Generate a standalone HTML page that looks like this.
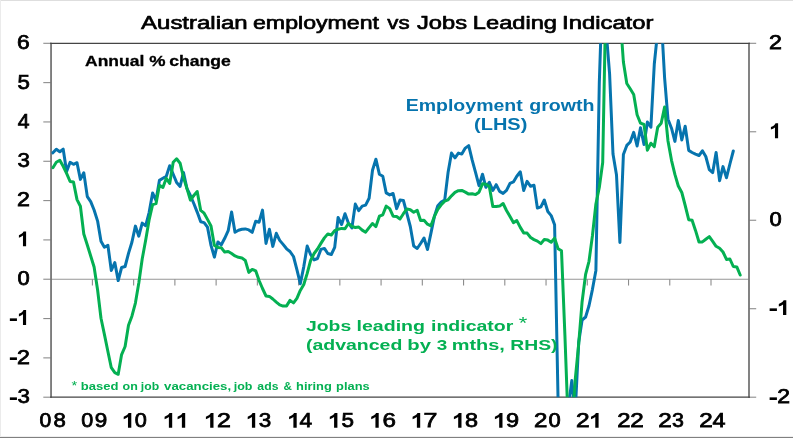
<!DOCTYPE html>
<html><head><meta charset="utf-8"><title>Australian employment vs Jobs Leading Indicator</title>
<style>
html,body{margin:0;padding:0;background:#fff;}
body{width:793px;height:438px;overflow:hidden;font-family:"Liberation Sans",sans-serif;}
svg{display:block;will-change:transform;font-family:"Liberation Sans",sans-serif;font-kerning:none;}
text{font-family:"Liberation Sans",sans-serif;}
.b{font-weight:bold;}
</style></head><body>
<svg width="793" height="438" viewBox="0 0 793 438">
<rect x="0" y="0" width="793" height="438" fill="#fff"/>
<rect x="0" y="0" width="793" height="1" fill="#dedede"/>
<rect x="0" y="0" width="1" height="438" fill="#ebebeb"/>
<rect x="0" y="437" width="793" height="1" fill="#808080"/>
<rect x="0" y="436" width="793" height="1" fill="#efefef"/>
<defs><clipPath id="c"><rect x="51.05" y="43.3" width="697.95" height="353.9"/></clipPath></defs>

<g stroke="#8c8c8c" stroke-width="1.1" fill="none">
<line x1="51.05" y1="279.23" x2="749.0" y2="279.23" stroke="#969696" stroke-width="1.2"/>
<line x1="92.40" y1="279.23" x2="92.40" y2="285.53"/>
<line x1="133.64" y1="279.23" x2="133.64" y2="285.53"/>
<line x1="174.88" y1="279.23" x2="174.88" y2="285.53"/>
<line x1="216.12" y1="279.23" x2="216.12" y2="285.53"/>
<line x1="257.36" y1="279.23" x2="257.36" y2="285.53"/>
<line x1="298.60" y1="279.23" x2="298.60" y2="285.53"/>
<line x1="339.84" y1="279.23" x2="339.84" y2="285.53"/>
<line x1="381.08" y1="279.23" x2="381.08" y2="285.53"/>
<line x1="422.32" y1="279.23" x2="422.32" y2="285.53"/>
<line x1="463.56" y1="279.23" x2="463.56" y2="285.53"/>
<line x1="504.80" y1="279.23" x2="504.80" y2="285.53"/>
<line x1="546.04" y1="279.23" x2="546.04" y2="285.53"/>
<line x1="587.28" y1="279.23" x2="587.28" y2="285.53"/>
<line x1="628.52" y1="279.23" x2="628.52" y2="285.53"/>
<line x1="669.76" y1="279.23" x2="669.76" y2="285.53"/>
<line x1="711.00" y1="279.23" x2="711.00" y2="285.53"/>
<line x1="43.3" y1="43.30" x2="51.05" y2="43.30"/>
<line x1="43.3" y1="82.62" x2="51.05" y2="82.62"/>
<line x1="43.3" y1="121.94" x2="51.05" y2="121.94"/>
<line x1="43.3" y1="161.27" x2="51.05" y2="161.27"/>
<line x1="43.3" y1="200.59" x2="51.05" y2="200.59"/>
<line x1="43.3" y1="239.91" x2="51.05" y2="239.91"/>
<line x1="43.3" y1="279.23" x2="51.05" y2="279.23"/>
<line x1="43.3" y1="318.56" x2="51.05" y2="318.56"/>
<line x1="43.3" y1="357.88" x2="51.05" y2="357.88"/>
<line x1="43.3" y1="397.20" x2="51.05" y2="397.20"/>
<line x1="749.0" y1="43.30" x2="756.2" y2="43.30"/>
<line x1="749.0" y1="131.77" x2="756.2" y2="131.77"/>
<line x1="749.0" y1="220.25" x2="756.2" y2="220.25"/>
<line x1="749.0" y1="308.72" x2="756.2" y2="308.72"/>
<line x1="749.0" y1="397.20" x2="756.2" y2="397.20"/>
</g>
<g fill="none">
<line x1="51.05" y1="42.699999999999996" x2="51.05" y2="397.8" stroke="#757575" stroke-width="1.8"/>
<line x1="749.0" y1="42.699999999999996" x2="749.0" y2="397.8" stroke="#757575" stroke-width="1.8"/>
<line x1="50.15" y1="43.3" x2="749.9" y2="43.3" stroke="#454545" stroke-width="1.3"/>
<line x1="50.15" y1="397.2" x2="749.9" y2="397.2" stroke="#454545" stroke-width="1.3"/>
</g>
<g clip-path="url(#c)" fill="none" stroke-linejoin="round" stroke-linecap="round" stroke-width="3.0">
<polyline stroke="#0674AE" points="52.9,152.8 56.3,149.2 59.8,151.8 63.2,149.2 66.6,171.4 70.1,162.3 73.5,164.3 77.0,162.7 80.4,179.4 83.8,172.8 87.3,196.6 90.7,201.6 94.1,210.0 97.6,221.1 101.0,241.3 104.4,247.3 107.9,245.3 111.3,270.5 114.8,262.5 118.2,280.6 121.6,267.5 125.1,266.5 128.5,253.4 131.9,242.3 135.4,226.1 138.8,236.2 142.2,223.1 145.7,225.7 149.1,212.6 152.6,192.9 156.0,200.5 159.4,180.4 162.9,178.3 166.3,176.3 169.7,165.8 173.2,174.3 176.6,182.4 180.1,186.4 183.5,172.5 186.9,188.4 190.4,195.5 193.8,203.5 197.2,212.1 200.7,221.8 204.1,222.6 207.5,227.2 211.0,245.4 214.4,257.1 217.9,242.0 221.3,244.8 224.7,238.3 228.2,230.7 231.6,212.1 235.0,232.3 238.5,230.3 241.9,229.3 245.3,228.9 248.8,229.9 252.2,232.3 255.7,221.2 259.1,222.2 262.5,210.1 266.0,243.4 269.4,229.3 272.8,246.4 276.3,233.3 279.7,240.4 283.1,244.4 286.6,248.8 290.0,251.5 293.5,256.5 296.9,269.6 300.3,283.7 303.8,266.6 307.2,246.0 310.6,254.5 314.1,259.9 317.5,258.5 320.9,249.4 324.4,248.4 327.8,253.5 331.3,254.5 334.7,247.4 338.1,217.5 341.6,224.5 345.0,213.7 348.4,223.0 351.9,228.0 355.3,204.1 358.7,210.6 362.2,206.1 365.6,205.1 369.1,198.3 372.5,170.3 375.9,159.2 379.4,174.3 382.8,176.3 386.2,192.9 389.7,194.9 393.1,193.5 396.6,208.6 400.0,200.1 403.4,200.5 406.9,213.7 410.3,226.5 413.7,246.1 417.2,248.5 420.6,243.5 424.0,238.0 427.5,249.5 430.9,233.4 434.4,216.4 437.8,205.7 441.2,202.1 444.7,200.1 448.1,172.3 451.5,153.1 455.0,157.8 458.4,153.1 461.8,154.1 465.3,148.1 468.7,145.6 472.2,160.2 475.6,172.7 479.0,185.6 482.5,174.2 485.9,187.3 489.3,182.3 492.8,190.4 496.2,184.7 499.6,191.4 503.1,193.4 506.5,190.4 510.0,183.3 513.4,181.9 516.8,176.2 520.3,171.8 523.7,190.4 527.1,181.3 530.6,186.3 534.0,185.3 537.4,208.1 540.9,206.9 544.3,200.0 547.8,211.5 551.2,215.6 554.6,224.7 558.1,402.0 561.5,440.0 564.9,440.0 568.4,407.0 571.8,380.6 575.2,412.0 578.7,342.3 582.1,320.0 585.6,317.0 589.0,305.7 592.4,289.6 595.9,270.4 599.3,83.0 602.7,-20.0 606.2,31.7 609.6,74.0 613.0,154.0 616.5,175.0 619.9,242.5 623.4,154.5 626.8,145.4 630.2,142.0 633.7,132.3 637.1,146.0 640.5,127.7 644.0,144.5 647.4,122.0 650.9,127.2 654.3,64.0 657.7,31.0 661.2,17.0 664.6,77.8 668.0,119.2 671.5,128.2 674.9,141.4 678.3,120.6 681.8,140.0 685.2,126.2 688.7,150.4 692.1,152.5 695.5,154.1 699.0,155.5 702.4,150.8 705.8,156.5 709.3,169.6 712.7,172.6 716.1,152.5 719.6,180.7 723.0,166.6 726.5,177.7 729.9,164.0 733.3,151.0"/>
<polyline stroke="#04B052" points="52.9,167.7 56.3,162.3 59.8,160.3 63.2,166.3 66.6,173.4 70.1,181.5 73.5,182.1 77.0,199.6 80.4,206.3 83.8,234.0 87.3,245.0 90.7,256.0 94.1,267.0 97.6,290.0 101.0,318.2 104.4,334.4 107.9,351.5 111.3,367.7 114.8,372.7 118.2,374.3 121.6,354.6 125.1,346.5 128.5,325.3 131.9,316.2 135.4,303.1 138.8,283.0 142.2,259.0 145.7,240.0 149.1,220.0 152.6,204.6 156.0,203.6 159.4,185.4 162.9,187.4 166.3,178.3 169.7,183.4 173.2,162.2 176.6,158.8 180.1,163.2 183.5,177.5 186.9,188.4 190.4,200.1 193.8,195.5 197.2,191.5 200.7,210.4 204.1,213.2 207.5,219.4 211.0,226.0 214.4,245.4 217.9,247.4 221.3,247.8 224.7,252.1 228.2,251.5 231.6,253.5 235.0,255.9 238.5,257.3 241.9,257.9 245.3,260.5 248.8,272.4 252.2,269.4 255.7,270.8 259.1,280.5 262.5,288.5 266.0,296.0 269.4,296.4 272.8,299.0 276.3,302.1 279.7,304.9 283.1,306.1 286.6,305.9 290.0,300.4 293.5,302.9 296.9,298.4 300.3,290.4 303.8,284.5 307.2,273.4 310.6,260.5 314.1,253.5 317.5,249.0 320.9,243.4 324.4,237.9 327.8,233.9 331.3,235.0 334.7,230.6 338.1,229.2 341.6,228.4 345.0,228.7 348.4,223.5 351.9,226.3 355.3,227.5 358.7,227.0 362.2,230.1 365.6,232.2 369.1,227.6 372.5,223.5 375.9,226.6 379.4,216.2 382.8,214.8 386.2,206.1 389.7,208.6 393.1,216.2 396.6,216.5 400.0,219.0 403.4,213.7 406.9,208.9 410.3,209.7 413.7,212.2 417.2,210.2 420.6,220.5 424.0,220.3 427.5,224.2 430.9,225.8 434.4,216.4 437.8,209.4 441.2,204.8 444.7,201.1 448.1,199.8 451.5,195.8 455.0,192.4 458.4,190.7 461.8,190.4 465.3,192.1 468.7,194.1 472.2,193.7 475.6,194.6 479.0,192.2 482.5,183.8 485.9,184.3 489.3,186.6 492.8,206.5 496.2,206.5 499.6,206.1 503.1,203.5 506.5,210.5 510.0,216.6 513.4,222.6 516.8,220.6 520.3,227.4 523.7,232.9 527.1,233.1 530.6,237.5 534.0,239.6 537.4,241.1 540.9,243.6 544.3,239.5 547.8,240.1 551.2,242.2 554.6,238.1 558.1,248.8 561.5,250.8 564.9,335.0 568.4,430.0 571.8,430.0 575.2,380.0 578.7,343.9 582.1,301.7 585.6,274.4 589.0,261.3 592.4,236.0 595.9,204.0 599.3,187.5 602.7,162.5 606.2,-20.0 609.6,-50.0 613.0,-50.0 616.5,-50.0 619.9,13.0 623.4,62.0 626.8,83.5 630.2,88.8 633.7,94.5 637.1,114.8 640.5,123.2 644.0,124.5 647.4,150.2 650.9,143.2 654.3,146.6 657.7,127.2 661.2,123.3 664.6,107.0 668.0,141.0 671.5,160.3 674.9,174.4 678.3,186.0 681.8,192.5 685.2,205.5 688.7,219.7 692.1,220.3 695.5,230.4 699.0,242.0 702.4,241.9 705.8,239.3 709.3,236.6 712.7,241.3 716.1,246.3 719.6,248.3 723.0,252.0 726.5,259.4 729.9,259.0 733.3,266.5 736.8,266.9 740.2,275.0"/>
</g>
<text x="141.1" y="28.5" font-size="17.6" textLength="106.53" lengthAdjust="spacingAndGlyphs" stroke="#000" stroke-width="0.65" stroke-linejoin="round">Australian</text>
<text x="253.01" y="28.5" font-size="17.6" textLength="126.01" lengthAdjust="spacingAndGlyphs" stroke="#000" stroke-width="0.65" stroke-linejoin="round">employment</text>
<text x="387.24" y="28.5" font-size="17.6" textLength="22.31" lengthAdjust="spacingAndGlyphs" stroke="#000" stroke-width="0.65" stroke-linejoin="round">vs</text>
<text x="416.96" y="28.5" font-size="17.6" textLength="50.04" lengthAdjust="spacingAndGlyphs" stroke="#000" stroke-width="0.65" stroke-linejoin="round">Jobs</text>
<text x="472.88" y="28.5" font-size="17.6" textLength="84.13" lengthAdjust="spacingAndGlyphs" stroke="#000" stroke-width="0.65" stroke-linejoin="round">Leading</text>
<text x="562.1" y="28.5" font-size="17.6" textLength="91.32" lengthAdjust="spacingAndGlyphs" stroke="#000" stroke-width="0.65" stroke-linejoin="round">Indicator</text>
<text x="85.07" y="65.7" font-size="15.3" class="b" textLength="59.18" lengthAdjust="spacingAndGlyphs" stroke="#000" stroke-width="0.3" stroke-linejoin="round">Annual</text>
<text x="149.35" y="65.7" font-size="15.3" class="b" textLength="16.28" lengthAdjust="spacingAndGlyphs" stroke="#000" stroke-width="0.3" stroke-linejoin="round">%</text>
<text x="169.28" y="65.7" font-size="15.3" class="b" textLength="61.56" lengthAdjust="spacingAndGlyphs" stroke="#000" stroke-width="0.3" stroke-linejoin="round">change</text>
<text x="405.66" y="110.5" font-size="15.7" class="b" fill="#0674AE" textLength="117.12" lengthAdjust="spacingAndGlyphs">Employment</text>
<text x="529.22" y="110.5" font-size="15.7" class="b" fill="#0674AE" textLength="65.37" lengthAdjust="spacingAndGlyphs">growth</text>
<text x="474.04" y="129.6" font-size="15.7" class="b" fill="#0674AE" textLength="53.31" lengthAdjust="spacingAndGlyphs">(LHS)</text>
<text x="305.98" y="330.8" font-size="15.0" class="b" fill="#04B052" textLength="45.25" lengthAdjust="spacingAndGlyphs">Jobs</text>
<text x="356.5" y="330.8" font-size="15.0" class="b" fill="#04B052" textLength="68.53" lengthAdjust="spacingAndGlyphs">leading</text>
<text x="431.0" y="330.8" font-size="15.0" class="b" fill="#04B052" textLength="82.28" lengthAdjust="spacingAndGlyphs">indicator</text>
<text x="518.77" y="329.0" font-size="16.5" fill="#04B052" textLength="8.53" lengthAdjust="spacingAndGlyphs">*</text>
<text x="305.93" y="349.8" font-size="15.0" class="b" fill="#04B052" textLength="96.41" lengthAdjust="spacingAndGlyphs">(advanced</text>
<text x="407.35" y="349.8" font-size="15.0" class="b" fill="#04B052" textLength="23.64" lengthAdjust="spacingAndGlyphs">by</text>
<text x="436.73" y="349.8" font-size="15.0" class="b" fill="#04B052" textLength="10.52" lengthAdjust="spacingAndGlyphs">3</text>
<text x="451.67" y="349.8" font-size="15.0" class="b" fill="#04B052" textLength="53.18" lengthAdjust="spacingAndGlyphs">mths,</text>
<text x="510.21" y="349.8" font-size="15.0" class="b" fill="#04B052" textLength="47.32" lengthAdjust="spacingAndGlyphs">RHS)</text>
<text x="80.68" y="389.7" font-size="10.6" class="b" fill="#04B052" textLength="37.75" lengthAdjust="spacingAndGlyphs">based</text>
<text x="122.56" y="389.7" font-size="10.6" class="b" fill="#04B052" textLength="15.27" lengthAdjust="spacingAndGlyphs">on</text>
<text x="140.84" y="389.7" font-size="10.6" class="b" fill="#04B052" textLength="18.31" lengthAdjust="spacingAndGlyphs">job</text>
<text x="164.14" y="389.7" font-size="10.6" class="b" fill="#04B052" textLength="66.97" lengthAdjust="spacingAndGlyphs">vacancies,</text>
<text x="233.75" y="389.7" font-size="10.6" class="b" fill="#04B052" textLength="18.71" lengthAdjust="spacingAndGlyphs">job</text>
<text x="257.37" y="389.7" font-size="10.6" class="b" fill="#04B052" textLength="21.08" lengthAdjust="spacingAndGlyphs">ads</text>
<text x="283.45" y="389.7" font-size="10.6" class="b" fill="#04B052" textLength="8.35" lengthAdjust="spacingAndGlyphs">&amp;</text>
<text x="296.09" y="389.7" font-size="10.6" class="b" fill="#04B052" textLength="35.75" lengthAdjust="spacingAndGlyphs">hiring</text>
<text x="336.09" y="389.7" font-size="10.6" class="b" fill="#04B052" textLength="33.62" lengthAdjust="spacingAndGlyphs">plans</text>
<text x="71.62" y="389.7" font-size="13" fill="#04B052" textLength="5.69" lengthAdjust="spacingAndGlyphs">*</text>
<text x="39.56" y="427.30" font-size="19.5" textLength="11.76" lengthAdjust="spacingAndGlyphs" stroke="#000" stroke-width="0.75" stroke-linejoin="miter">0</text>
<text x="53.58" y="427.30" font-size="19.5" textLength="12.32" lengthAdjust="spacingAndGlyphs" stroke="#000" stroke-width="0.75" stroke-linejoin="miter">8</text>
<text x="81.35" y="427.30" font-size="19.5" textLength="11.99" lengthAdjust="spacingAndGlyphs" stroke="#000" stroke-width="0.75" stroke-linejoin="miter">0</text>
<text x="94.77" y="427.30" font-size="19.5" textLength="12.49" lengthAdjust="spacingAndGlyphs" stroke="#000" stroke-width="0.75" stroke-linejoin="miter">9</text>
<path d="M1131,0H850V-1059Q696,-915 487,-846V-1101Q597,-1137 726,-1237.5Q855,-1338 903,-1472H1131Z" transform="translate(117.95,427.80) scale(0.01180,0.01012)"/>
<text x="134.74" y="427.30" font-size="19.5" textLength="12.10" lengthAdjust="spacingAndGlyphs" stroke="#000" stroke-width="0.75" stroke-linejoin="miter">0</text>
<path d="M1131,0H850V-1059Q696,-915 487,-846V-1101Q597,-1137 726,-1237.5Q855,-1338 903,-1472H1131Z" transform="translate(158.85,427.80) scale(0.01180,0.01012)"/>
<path d="M1131,0H850V-1059Q696,-915 487,-846V-1101Q597,-1137 726,-1237.5Q855,-1338 903,-1472H1131Z" transform="translate(171.85,427.80) scale(0.01180,0.01012)"/>
<path d="M1131,0H850V-1059Q696,-915 487,-846V-1101Q597,-1137 726,-1237.5Q855,-1338 903,-1472H1131Z" transform="translate(200.15,427.80) scale(0.01180,0.01012)"/>
<text x="217.10" y="427.30" font-size="19.5" textLength="13.89" lengthAdjust="spacingAndGlyphs" stroke="#000" stroke-width="0.75" stroke-linejoin="miter">2</text>
<path d="M1131,0H850V-1059Q696,-915 487,-846V-1101Q597,-1137 726,-1237.5Q855,-1338 903,-1472H1131Z" transform="translate(242.03,427.80) scale(0.01165,0.01012)"/>
<text x="258.81" y="427.30" font-size="19.5" textLength="12.50" lengthAdjust="spacingAndGlyphs" stroke="#000" stroke-width="0.75" stroke-linejoin="miter">3</text>
<path d="M1131,0H850V-1059Q696,-915 487,-846V-1101Q597,-1137 726,-1237.5Q855,-1338 903,-1472H1131Z" transform="translate(283.35,427.80) scale(0.01180,0.01012)"/>
<text x="299.49" y="427.30" font-size="19.5" textLength="12.64" lengthAdjust="spacingAndGlyphs" stroke="#000" stroke-width="0.75" stroke-linejoin="miter">4</text>
<path d="M1131,0H850V-1059Q696,-915 487,-846V-1101Q597,-1137 726,-1237.5Q855,-1338 903,-1472H1131Z" transform="translate(324.05,427.80) scale(0.01180,0.01012)"/>
<text x="341.41" y="427.30" font-size="19.5" textLength="12.50" lengthAdjust="spacingAndGlyphs" stroke="#000" stroke-width="0.75" stroke-linejoin="miter">5</text>
<path d="M1131,0H850V-1059Q696,-915 487,-846V-1101Q597,-1137 726,-1237.5Q855,-1338 903,-1472H1131Z" transform="translate(365.53,427.80) scale(0.01165,0.01012)"/>
<text x="382.44" y="427.30" font-size="19.5" textLength="13.45" lengthAdjust="spacingAndGlyphs" stroke="#000" stroke-width="0.75" stroke-linejoin="miter">6</text>
<path d="M1131,0H850V-1059Q696,-915 487,-846V-1101Q597,-1137 726,-1237.5Q855,-1338 903,-1472H1131Z" transform="translate(406.85,427.80) scale(0.01180,0.01012)"/>
<text x="423.50" y="427.30" font-size="19.5" textLength="13.89" lengthAdjust="spacingAndGlyphs" stroke="#000" stroke-width="0.75" stroke-linejoin="miter">7</text>
<path d="M1131,0H850V-1059Q696,-915 487,-846V-1101Q597,-1137 726,-1237.5Q855,-1338 903,-1472H1131Z" transform="translate(448.15,427.80) scale(0.01180,0.01012)"/>
<text x="465.02" y="427.30" font-size="19.5" textLength="13.03" lengthAdjust="spacingAndGlyphs" stroke="#000" stroke-width="0.75" stroke-linejoin="miter">8</text>
<path d="M1131,0H850V-1059Q696,-915 487,-846V-1101Q597,-1137 726,-1237.5Q855,-1338 903,-1472H1131Z" transform="translate(489.15,427.80) scale(0.01180,0.01012)"/>
<text x="505.92" y="427.30" font-size="19.5" textLength="13.09" lengthAdjust="spacingAndGlyphs" stroke="#000" stroke-width="0.75" stroke-linejoin="miter">9</text>
<text x="534.14" y="427.30" font-size="19.5" textLength="13.40" lengthAdjust="spacingAndGlyphs" stroke="#000" stroke-width="0.75" stroke-linejoin="miter">2</text>
<text x="548.53" y="427.30" font-size="19.5" textLength="12.22" lengthAdjust="spacingAndGlyphs" stroke="#000" stroke-width="0.75" stroke-linejoin="miter">0</text>
<text x="576.02" y="427.30" font-size="19.5" textLength="13.64" lengthAdjust="spacingAndGlyphs" stroke="#000" stroke-width="0.75" stroke-linejoin="miter">2</text>
<path d="M1131,0H850V-1059Q696,-915 487,-846V-1101Q597,-1137 726,-1237.5Q855,-1338 903,-1472H1131Z" transform="translate(585.25,427.80) scale(0.01180,0.01012)"/>
<text x="617.15" y="427.30" font-size="19.5" textLength="13.28" lengthAdjust="spacingAndGlyphs" stroke="#000" stroke-width="0.75" stroke-linejoin="miter">2</text>
<text x="630.23" y="427.30" font-size="19.5" textLength="13.52" lengthAdjust="spacingAndGlyphs" stroke="#000" stroke-width="0.75" stroke-linejoin="miter">2</text>
<text x="658.23" y="427.30" font-size="19.5" textLength="13.52" lengthAdjust="spacingAndGlyphs" stroke="#000" stroke-width="0.75" stroke-linejoin="miter">2</text>
<text x="671.95" y="427.30" font-size="19.5" textLength="11.92" lengthAdjust="spacingAndGlyphs" stroke="#000" stroke-width="0.75" stroke-linejoin="miter">3</text>
<text x="699.33" y="427.30" font-size="19.5" textLength="13.52" lengthAdjust="spacingAndGlyphs" stroke="#000" stroke-width="0.75" stroke-linejoin="miter">2</text>
<text x="712.58" y="427.30" font-size="19.5" textLength="12.98" lengthAdjust="spacingAndGlyphs" stroke="#000" stroke-width="0.75" stroke-linejoin="miter">4</text>
<text x="17.10" y="49.20" font-size="19.5" textLength="12.73" lengthAdjust="spacingAndGlyphs" stroke="#000" stroke-width="0.75" stroke-linejoin="miter">6</text>
<text x="17.42" y="88.52" font-size="19.5" textLength="12.39" lengthAdjust="spacingAndGlyphs" stroke="#000" stroke-width="0.75" stroke-linejoin="miter">5</text>
<text x="17.73" y="127.84" font-size="19.5" textLength="11.75" lengthAdjust="spacingAndGlyphs" stroke="#000" stroke-width="0.75" stroke-linejoin="miter">4</text>
<text x="17.42" y="167.17" font-size="19.5" textLength="12.39" lengthAdjust="spacingAndGlyphs" stroke="#000" stroke-width="0.75" stroke-linejoin="miter">3</text>
<text x="17.09" y="206.49" font-size="19.5" textLength="12.91" lengthAdjust="spacingAndGlyphs" stroke="#000" stroke-width="0.75" stroke-linejoin="miter">2</text>
<path d="M1131,0H850V-1059Q696,-915 487,-846V-1101Q597,-1137 726,-1237.5Q855,-1338 903,-1472H1131Z" transform="translate(13.46,246.31) scale(0.01118,0.01012)"/>
<text x="17.43" y="285.13" font-size="19.5" textLength="12.22" lengthAdjust="spacingAndGlyphs" stroke="#000" stroke-width="0.75" stroke-linejoin="miter">0</text>
<text x="8.86" y="324.96" font-size="21.5" textLength="9.34" lengthAdjust="spacingAndGlyphs" class="b">-</text>
<path d="M1131,0H850V-1059Q696,-915 487,-846V-1101Q597,-1137 726,-1237.5Q855,-1338 903,-1472H1131Z" transform="translate(13.46,324.96) scale(0.01118,0.01012)"/>
<text x="8.86" y="364.28" font-size="21.5" textLength="9.34" lengthAdjust="spacingAndGlyphs" class="b">-</text>
<text x="17.09" y="363.78" font-size="19.5" textLength="12.91" lengthAdjust="spacingAndGlyphs" stroke="#000" stroke-width="0.75" stroke-linejoin="miter">2</text>
<text x="8.86" y="403.60" font-size="21.5" textLength="9.34" lengthAdjust="spacingAndGlyphs" class="b">-</text>
<text x="17.42" y="403.10" font-size="19.5" textLength="12.39" lengthAdjust="spacingAndGlyphs" stroke="#000" stroke-width="0.75" stroke-linejoin="miter">3</text>
<text x="769.09" y="49.20" font-size="19.5" textLength="12.91" lengthAdjust="spacingAndGlyphs" stroke="#000" stroke-width="0.75" stroke-linejoin="miter">2</text>
<path d="M1131,0H850V-1059Q696,-915 487,-846V-1101Q597,-1137 726,-1237.5Q855,-1338 903,-1472H1131Z" transform="translate(765.46,138.17) scale(0.01118,0.01012)"/>
<text x="769.43" y="226.15" font-size="19.5" textLength="12.22" lengthAdjust="spacingAndGlyphs" stroke="#000" stroke-width="0.75" stroke-linejoin="miter">0</text>
<text x="768.63" y="315.12" font-size="21.5" textLength="9.61" lengthAdjust="spacingAndGlyphs" class="b">-</text>
<path d="M1131,0H850V-1059Q696,-915 487,-846V-1101Q597,-1137 726,-1237.5Q855,-1338 903,-1472H1131Z" transform="translate(773.13,315.12) scale(0.01165,0.01012)"/>
<text x="768.63" y="403.60" font-size="21.5" textLength="9.61" lengthAdjust="spacingAndGlyphs" class="b">-</text>
<text x="777.20" y="403.10" font-size="19.5" textLength="12.79" lengthAdjust="spacingAndGlyphs" stroke="#000" stroke-width="0.75" stroke-linejoin="miter">2</text>
</svg></body></html>
